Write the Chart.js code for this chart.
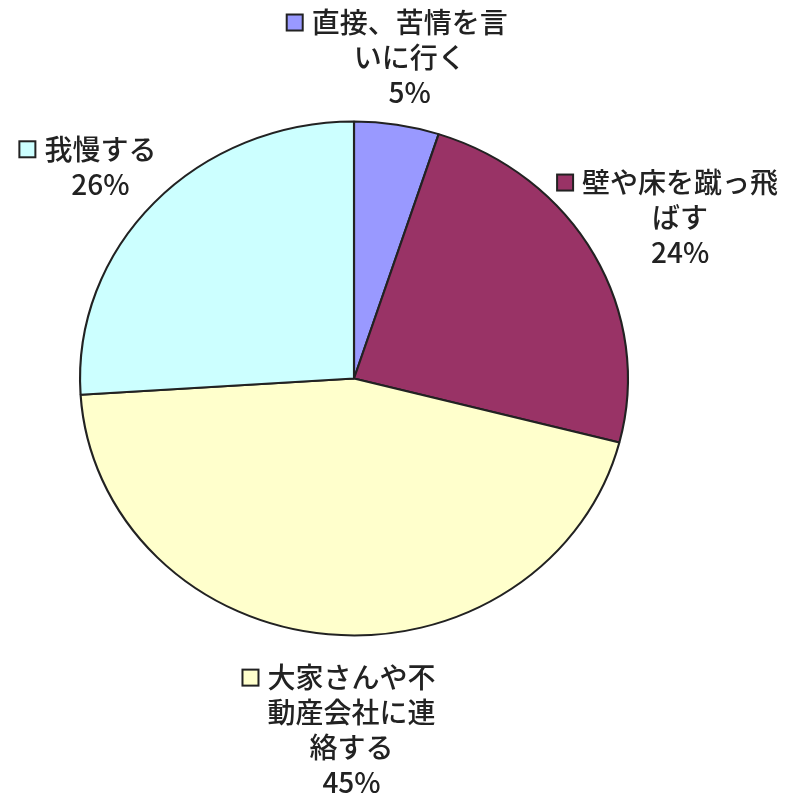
<!DOCTYPE html>
<html lang="ja">
<head>
<meta charset="UTF-8">
<title>円グラフ</title>
<script src="https://cdn.jsdelivr.net/npm/chart.js@4.4.1/dist/chart.umd.min.js"></script>
<style>
  html, body { margin: 0; padding: 0; background: #fff; }
  #contenedor { width: 800px; height: 800px; position: relative; }
</style>
</head>
<body>
<div id="contenedor"><canvas id="grafico"></canvas></div>
<script>
// ============================
// DATOS
// ============================
const categorias = [
  ["直接、苦情を言", "いに行く"],
  ["壁や床を蹴っ飛", "ばす"],
  ["大家さんや不", "動産会社に連", "絡する"],
  ["我慢する"]
];
const valores = [5, 24, 45, 26];
const colores = ["#9999FF", "#993366", "#FFFFCC", "#CCFFFF"];

// ============================
// AJUSTES DE DIBUJO
// ============================
const escalaX = 1.066;          // la tarta del original sale algo achatada
const factorEtiqueta = 1.3;
const ajustesEtiqueta = [[0, 9], [14, 0], [31, 19], [6, 17]];
const fuente = '500 28px "Noto Sans CJK JP", sans-serif';
const altoLinea = 35;
const ladoCuadro = 16;

// ============================
// PLUGINS
// ============================
const pluginElipse = {
  id: "elipse",
  beforeDatasetsDraw(chart) {
    const arco = chart.getDatasetMeta(0).data[0];
    const ctx = chart.ctx;
    ctx.save();
    ctx.translate(arco.x, 0);
    ctx.scale(escalaX, 1);
    ctx.translate(-arco.x, 0);
  },
  afterDatasetsDraw(chart) {
    chart.ctx.restore();
  }
};

const pluginEtiquetas = {
  id: "etiquetas",
  afterDraw(chart) {
    const ctx = chart.ctx;
    const total = valores.reduce((a, b) => a + b, 0);
    ctx.save();
    ctx.font = fuente;
    ctx.textAlign = "center";
    ctx.textBaseline = "middle";

    chart.getDatasetMeta(0).data.forEach((arco, i) => {
      const medio = (arco.startAngle + arco.endAngle) / 2;
      const r = arco.outerRadius * factorEtiqueta;
      const cx = arco.x + Math.cos(medio) * r * escalaX + ajustesEtiqueta[i][0];
      const cy = arco.y + Math.sin(medio) * r + ajustesEtiqueta[i][1];
      const lineas = categorias[i].concat([Math.round(valores[i] / total * 100) + "%"]);
      const y0 = cy - (lineas.length - 1) * altoLinea / 2;

      ctx.fillStyle = "#222";
      lineas.forEach((t, j) => ctx.fillText(t, cx, y0 + j * altoLinea));

      // cuadrito de color delante de la primera linea
      const ancho = ctx.measureText(lineas[0]).width;
      const x = cx - ancho / 2 - 9 - ladoCuadro;
      ctx.fillStyle = colores[i];
      ctx.fillRect(x, y0 - ladoCuadro / 2, ladoCuadro, ladoCuadro);
      ctx.lineWidth = 2;
      ctx.strokeStyle = "#222";
      ctx.strokeRect(x, y0 - ladoCuadro / 2, ladoCuadro, ladoCuadro);
    });
    ctx.restore();
  }
};

// ============================
// GRAFICO
// ============================
new Chart(document.getElementById("grafico"), {
  type: "pie",
  data: {
    labels: categorias,
    datasets: [{
      data: valores,
      backgroundColor: colores,
      borderColor: "#222",
      borderWidth: 2
    }]
  },
  options: {
    responsive: true,
    maintainAspectRatio: false,
    animation: false,
    radius: 257,
    layout: { padding: { left: 0, right: 92, top: 0, bottom: 43 } },
    plugins: {
      legend: { display: false },
      tooltip: { enabled: false }
    }
  },
  plugins: [pluginElipse, pluginEtiquetas]
});
</script>
</body>
</html>
